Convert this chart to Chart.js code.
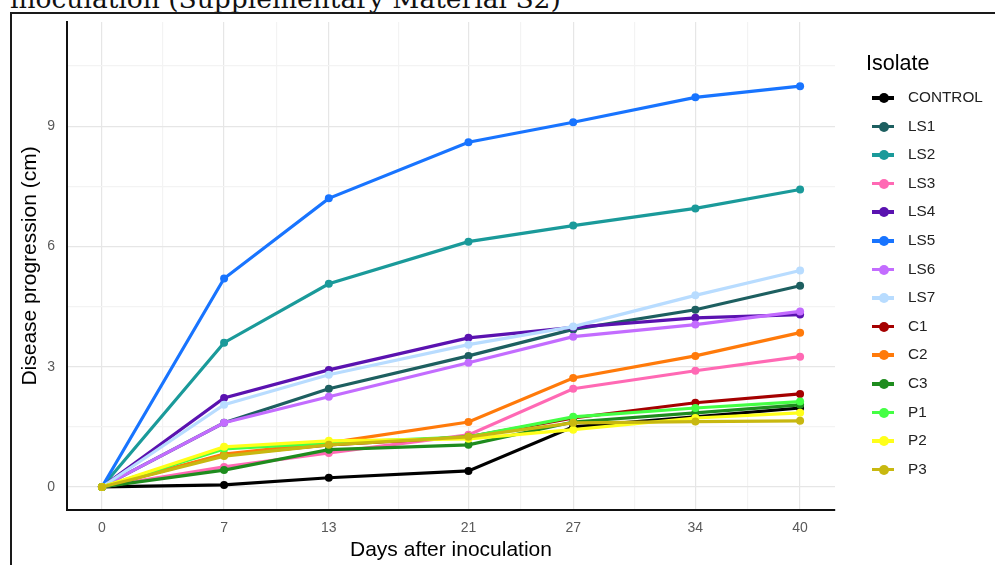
<!DOCTYPE html>
<html>
<head>
<meta charset="utf-8">
<script src="https://cdn.jsdelivr.net/npm/chart.js@4"></script>
<style>
  body { margin: 0; background: #fff; width: 995px; height: 565px; overflow: hidden; position: relative; }
  #doctext { position: absolute; left: 10px; top: -14px; font-family: "DejaVu Serif", serif; font-size: 26.5px; line-height: 26.5px; color: #111; white-space: nowrap; }
  #frame { position: absolute; left: 10px; top: 12px; width: 1000px; height: 600px; border-left: 2px solid #1a1a1a; border-top: 2px solid #1a1a1a; }
  #chart { position: absolute; left: 0; top: 0; }
  #legend { position: absolute; left: 866px; top: 49px; font-family: "Liberation Sans", Arial, sans-serif; }
  #legend .title { font-size: 21.5px; color: #000; height: 28px; line-height: 28px; }
  #legend .item { position: absolute; left: 6px; height: 20px; width: 130px; }
  #legend .key { position: absolute; left: 0; top: 8px; width: 22px; height: 3.5px; }
  #legend .dot { position: absolute; left: 6.5px; top: 5px; width: 10px; height: 10px; border-radius: 50%; }
  #legend .lab { position: absolute; left: 36px; top: 0px; font-size: 15.3px; color: #222; }
</style>
</head>
<body>
<div id="doctext">inoculation (Supplementary Material S2)</div>
<div id="frame"></div>
<canvas id="chart" width="995" height="565"></canvas>
<div id="legend"><div class="title">Isolate</div></div>
<script>
var days = [0, 7, 13, 21, 27, 34, 40];
var isolates = ['CONTROL', 'LS1', 'LS2', 'LS3', 'LS4', 'LS5', 'LS6', 'LS7', 'C1', 'C2', 'C3', 'P1', 'P2', 'P3'];

var CONTROL = [0, 0.05, 0.23, 0.40, 1.50, 1.75, 1.97];
var LS1 = [0, 1.60, 2.45, 3.27, 3.93, 4.42, 5.02];
var LS2 = [0, 3.60, 5.07, 6.12, 6.52, 6.95, 7.42];
var LS3 = [0, 0.50, 0.85, 1.30, 2.45, 2.90, 3.25];
var LS4 = [0, 2.22, 2.92, 3.72, 3.98, 4.22, 4.30];
var LS5 = [0, 5.20, 7.20, 8.60, 9.10, 9.72, 10.00];
var LS6 = [0, 1.60, 2.25, 3.10, 3.75, 4.05, 4.38];
var LS7 = [0, 2.05, 2.80, 3.55, 4.00, 4.78, 5.40];
var C1 = [0, 0.80, 1.05, 1.25, 1.72, 2.10, 2.32];
var C2 = [0, 0.82, 1.10, 1.62, 2.72, 3.27, 3.85];
var C3 = [0, 0.42, 0.93, 1.05, 1.62, 1.85, 2.05];
var P1 = [0, 0.95, 1.10, 1.25, 1.75, 1.97, 2.13];
var P2 = [0, 1.00, 1.15, 1.20, 1.43, 1.72, 1.85];
var P3 = [0, 0.77, 1.05, 1.25, 1.60, 1.63, 1.65];

var series = [CONTROL, LS1, LS2, LS3, LS4, LS5, LS6, LS7, C1, C2, C3, P1, P2, P3];
var colours = ['#000000', '#1d5f60', '#1a9a9a', '#ff69b4', '#5a12b0', '#1874ff', '#c36cff', '#b8dcff',
               '#a50000', '#ff7a0a', '#1e8c1e', '#44ff44', '#ffff1a', '#c8b810'];

var xMajor = [0, 7, 13, 21, 27, 34, 40];
var xMinor = [3.5, 10, 17, 24, 30.5, 37];
var yMajor = [0, 3, 6, 9];
var yMinor = [1.5, 4.5, 7.5, 10.5];

var datasets = series.map(function (vals, i) {
    return {
        label: isolates[i],
        data: vals.map(function (v, j) { return { x: days[j], y: v }; }),
        borderColor: colours[i],
        backgroundColor: colours[i],
        borderWidth: 3.2,
        pointRadius: 4,
        pointBorderWidth: 0,
        pointHoverRadius: 4,
        tension: 0,
        order: series.length - i
    };
});

function allTicks(major, minor) {
    return major.concat(minor).sort(function (a, b) { return a - b; }).map(function (v) { return { value: v }; });
}

var ctx = document.getElementById('chart').getContext('2d');
var chart = new Chart(ctx, {
    type: 'line',
    data: { datasets: datasets },
    options: {
        responsive: false,
        animation: false,
        devicePixelRatio: 1,
        layout: { padding: { top: 22, right: 160, left: 0, bottom: 0 } },
        plugins: { legend: { display: false }, tooltip: { enabled: false } },
        scales: {
            x: {
                type: 'linear',
                min: -2,
                max: 42,
                afterBuildTicks: function (s) { s.ticks = allTicks(xMajor, xMinor); },
                afterFit: function (s) { s.height = 55; },
                ticks: {
                    autoSkip: false,
                    maxRotation: 0,
                    padding: 10,
                    color: '#595959',
                    font: { family: 'Liberation Sans', size: 14 },
                    callback: function (v) { return xMajor.indexOf(v) >= 0 ? String(v) : ''; }
                },
                grid: {
                    drawTicks: false,
                    lineWidth: 1.2,
                    color: function (c) { return c.tick && xMajor.indexOf(c.tick.value) >= 0 ? '#e6e6e6' : '#f3f3f3'; }
                },
                border: { display: true, color: '#111', width: 2 },
                title: {
                    display: true,
                    text: 'Days after inoculation',
                    color: '#000',
                    font: { family: 'Liberation Sans', size: 21 },
                    padding: { top: 0, bottom: 2 }
                }
            },
            y: {
                min: -0.575,
                max: 11.6,
                afterBuildTicks: function (s) { s.ticks = allTicks(yMajor, yMinor); },
                afterFit: function (s) { s.width = 67; },
                ticks: {
                    autoSkip: false,
                    padding: 12,
                    color: '#595959',
                    font: { family: 'Liberation Sans', size: 14 },
                    callback: function (v) { return yMajor.indexOf(v) >= 0 ? String(v) : ''; }
                },
                grid: {
                    drawTicks: false,
                    lineWidth: 1.2,
                    color: function (c) { return c.tick && yMajor.indexOf(c.tick.value) >= 0 ? '#e6e6e6' : '#f3f3f3'; }
                },
                border: { display: true, color: '#111', width: 2 },
                title: {
                    display: true,
                    text: 'Disease progression (cm)',
                    color: '#000',
                    font: { family: 'Liberation Sans', size: 21 },
                    padding: { top: 18, bottom: 0 }
                }
            }
        }
    }
});

// legend like ggplot's, built from the chart's datasets
var legend = document.getElementById('legend');
chart.data.datasets.forEach(function (ds, i) {
    var item = document.createElement('div');
    item.className = 'item';
    item.style.top = (39 + i * 28.6) + 'px';
    item.innerHTML = '<div class="key" style="background:' + ds.borderColor + '"></div>' +
        '<div class="dot" style="background:' + ds.borderColor + '"></div>' +
        '<div class="lab">' + ds.label + '</div>';
    legend.appendChild(item);
});
</script>
</body>
</html>
